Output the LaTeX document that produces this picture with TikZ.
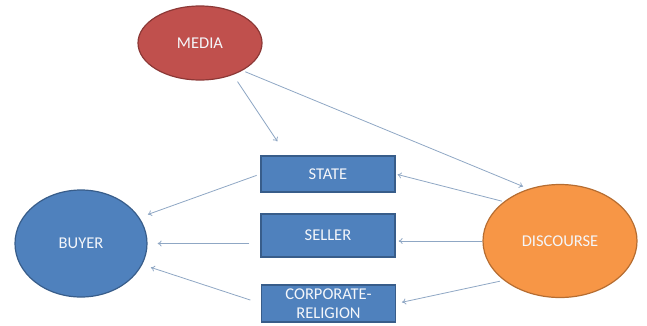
\documentclass[tikz,border=0pt]{standalone}
\usepackage{fontspec}
\setmainfont{Carlito}
\usetikzlibrary{shapes.geometric,arrows.meta}
\definecolor{redfill}{HTML}{C0504D}
\definecolor{redline}{HTML}{8C3836}
\definecolor{bluefill}{HTML}{4F81BD}
\definecolor{blueline}{HTML}{385D8A}
\definecolor{orangefill}{HTML}{F79646}
\definecolor{orangeline}{HTML}{B66D31}
\definecolor{linkcol}{HTML}{8FA7C4}
\definecolor{textcol}{HTML}{F4F6FA}
\tikzset{
  label text/.style={text=textcol, font=\fontsize{16.5}{20}\selectfont, align=center},
  oval/.style={ellipse, inner sep=0pt, line width=1.2pt, label text},
  box/.style={rectangle, inner sep=0pt, minimum width=134pt, fill=bluefill, draw=blueline, line width=1.2pt, label text},
  conn/.style={draw=linkcol, line width=0.8pt, -{To[length=4pt,width=6pt]}}
}
\begin{document}
\begin{tikzpicture}[x=1pt,y=-1pt]
\useasboundingbox (0,0) rectangle (647,325);
% actors
\node[oval, fill=redfill, draw=redline, minimum width=124pt, minimum height=74pt] (media) at (200,43) {MEDIA};
\node[oval, fill=bluefill, draw=blueline, minimum width=132pt, minimum height=107pt] (buyer) at (81,243.5) {BUYER};
\node[oval, fill=orangefill, draw=orangeline, minimum width=154pt, minimum height=113pt] (discourse) at (560,241) {DISCOURSE};
% intermediaries
\node[box, minimum height=36pt] (state) at (328,174) {STATE};
\node[box, minimum height=43pt] (seller) at (328,235.5) {SELLER};
\node[box, minimum height=37pt] (corp) at (328.5,303.5) {CORPORATE-\\[-1pt]RELIGION};
% influence from media
\draw[conn, shorten <=8pt] (media.-44) -- ([xshift=17pt,yshift=14pt]state.north west);
\draw[conn, shorten <=3pt, shorten >=6pt] (media.-33) -- (discourse.121);
% discourse towards intermediaries
\draw[conn, shorten <=2pt, shorten >=2pt] (discourse.145) -- (state.east);
\draw[conn, shorten >=3pt] (discourse.west) -- (seller.east |- discourse.west);
\draw[conn, shorten <=4pt, shorten >=6pt] (discourse.215) -- (corp.east);
% intermediaries towards buyer
\draw[conn, shorten <=4pt, shorten >=9pt] (state.west) -- (buyer.24);
\draw[conn, shorten <=11pt, shorten >=10pt] (seller.west |- buyer.east) -- (buyer.east);
\draw[conn, shorten <=11pt, shorten >=9pt] (corp.west) -- (buyer.-19.5);
\end{tikzpicture}
\end{document}
